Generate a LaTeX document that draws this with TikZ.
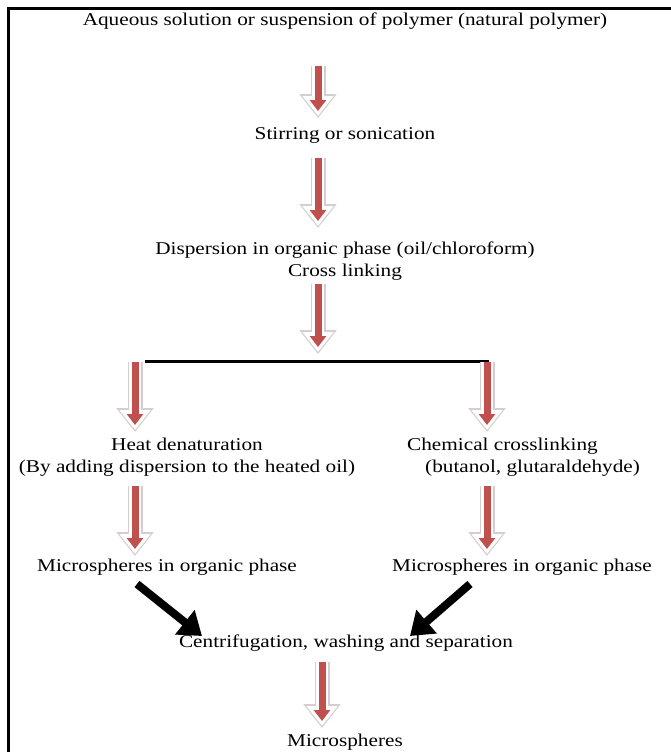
\documentclass[tikz,border=0pt]{standalone}
\usepackage{fontspec}
\setmainfont[FakeStretch=1.18]{Liberation Serif}
\usetikzlibrary{arrows.meta}

\definecolor{arrowred}{RGB}{192,80,77}
\definecolor{arrowedge}{RGB}{215,205,205}

\tikzset{
  steptext/.style={font=\fontsize{18}{22}\selectfont, inner sep=0pt, align=center},
  blackarrow/.style={line width=8pt, -{Triangle[width=30pt,length=22pt]}}
}

% hollow block arrow with red shaft
\newcommand{\redarrow}[2]{%
  \draw[line width=15pt, arrowedge, -{Triangle[width=36pt,length=24pt]}] (#1) -- (#2);
  \draw[line width=12pt, white, shorten >=2pt, -{Triangle[width=30pt,length=20pt]}] (#1) -- (#2);
  \draw[line width=7pt, arrowred, shorten >=7pt, -{Triangle[width=16pt,length=11pt]}] (#1) -- (#2);
}

\begin{document}
\begin{tikzpicture}[x=1pt,y=-1pt]
  \useasboundingbox (0,0) rectangle (671,752);
  \draw[line width=3pt] (8,752) -- (8,9) -- (671,9);

  \node[steptext] (aqueous) at (345,21) {Aqueous solution or suspension of polymer (natural polymer)};
  \node[steptext] (stirring) at (345,135) {Stirring or sonication};
  \node[steptext] (dispersion) at (345,261) {Dispersion in organic phase (oil/chloroform)\\Cross linking};
  \node[steptext] (heat) at (187,457) {Heat denaturation\\(By adding dispersion to the heated oil)};
  \node[steptext, align=left, anchor=west] (chem) at (407,457) {Chemical crosslinking\\\hspace*{18pt}(butanol, glutaraldehyde)};
  \node[steptext] (micleft) at (167,567) {Microspheres in organic phase};
  \node[steptext] (micright) at (522,567) {Microspheres in organic phase};
  \node[steptext] (centri) at (346,643) {Centrifugation, washing and separation};
  \node[steptext] (micro) at (345,742) {Microspheres};

  % arrow end points
  \coordinate (a1s) at (318,66);  \coordinate (a1e) at (318,118);
  \coordinate (a2s) at (318,158); \coordinate (a2e) at (318,228);
  \coordinate (a3s) at (318,284); \coordinate (a3e) at (318,354);
  \coordinate (barl) at (145,361); \coordinate (barr) at (489,361);
  \coordinate (l1s) at (135,362); \coordinate (l1e) at (135,432);
  \coordinate (r1s) at (487,362); \coordinate (r1e) at (487,432);
  \coordinate (l2s) at (135,486); \coordinate (l2e) at (135,556);
  \coordinate (r2s) at (487,486); \coordinate (r2e) at (487,556);
  \coordinate (cls) at (137,584); \coordinate (cle) at (202,636);
  \coordinate (crs) at (470,584); \coordinate (cre) at (410,636);
  \coordinate (m1s) at (322,662); \coordinate (m1e) at (322,728);

  \redarrow{a1s}{a1e}
  \redarrow{a2s}{a2e}
  \redarrow{a3s}{a3e}
  \draw[line width=3pt] (barl) -- (barr);
  \redarrow{l1s}{l1e}
  \redarrow{r1s}{r1e}
  \redarrow{l2s}{l2e}
  \redarrow{r2s}{r2e}
  \draw[blackarrow] (cls) -- (cle);
  \draw[blackarrow] (crs) -- (cre);
  \redarrow{m1s}{m1e}
\end{tikzpicture}
\end{document}
